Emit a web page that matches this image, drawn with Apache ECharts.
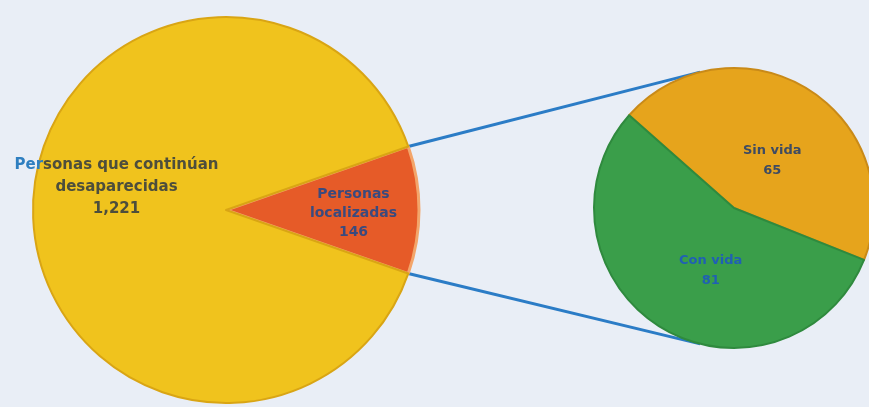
<!DOCTYPE html>
<html><head><meta charset="utf-8">
<script src="https://cdn.jsdelivr.net/npm/echarts@6/dist/echarts.min.js"></script>
<style>html,body{margin:0;padding:0;background:#e9eef6}#c{width:869px;height:407px}</style>
</head><body><div id="c"></div>
<script>
// data
const mainNames = ['Personas localizadas', 'Personas que continúan desaparecidas'];
const mainValues = [146, 1221];
const mainLabels = ['1,221'];
const subNames = ['Sin vida', 'Con vida'];
const subValues = [65, 81];

const c1 = [226, 210], r1 = 193;
const c2 = [734, 208], r2 = 140;
const total = mainValues[0] + mainValues[1];
const redAngle = mainValues[0] / total * 360;
const start1 = redAngle / 2;
const start2 = 138.5;

function pt(c, r, deg) {
  const a = deg * Math.PI / 180;
  return [c[0] + r * Math.cos(a), c[1] - r * Math.sin(a)];
}
const p1 = pt(c1, r1, start1), p2 = pt(c1, r1, -start1);
const q1 = pt(c2, r2, 104), q2 = pt(c2, r2, -104);

const font = 'DejaVu Sans';
const chart = echarts.init(document.getElementById('c'));
chart.setOption({
  backgroundColor: '#e9eef6',
  animation: false,
  graphic: [
    { type: 'line', z: 1, shape: { x1: p1[0], y1: p1[1], x2: q1[0], y2: q1[1] }, style: { stroke: '#2b7cc6', lineWidth: 3 } },
    { type: 'line', z: 1, shape: { x1: p2[0], y1: p2[1], x2: q2[0], y2: q2[1] }, style: { stroke: '#2b7cc6', lineWidth: 3 } }
  ],
  series: [
    {
      type: 'pie', z: 2, center: c1, radius: r1, startAngle: start1, clockwise: true,
      labelLine: { show: false },
      data: [
        { name: mainNames[0], value: mainValues[0],
          itemStyle: { color: '#e65b28', borderColor: '#f3a56a', borderWidth: 3 },
          label: { show: true, position: 'inside', offset: [28, 3], formatter: '{a|Personas}\n{a|localizadas}\n{a|{c}}',
            rich: { a: { color: '#3a4a7e', fontSize: 14, fontWeight: 'bold', fontFamily: font, lineHeight: 19, align: 'center' } } } },
        { name: mainNames[1], value: mainValues[1],
          itemStyle: { color: '#f0c31d', borderColor: '#d9a514', borderWidth: 2 },
          label: { show: true, position: 'inside', offset: [-10, -23], formatter: '{b|Per}{a|sonas que continúan}\n{a|desaparecidas}\n{a|' + mainLabels[0] + '}',
            rich: { a: { color: '#4d4e3c', fontSize: 15, fontWeight: 'bold', fontFamily: font, lineHeight: 22 },
                    b: { color: '#2f7fc0', fontSize: 15, fontWeight: 'bold', fontFamily: font, lineHeight: 22 } } } }
      ]
    },
    {
      type: 'pie', z: 2, center: c2, radius: r2, startAngle: start2, clockwise: true,
      labelLine: { show: false },
      data: [
        { name: subNames[0], value: subValues[0],
          itemStyle: { color: '#e6a41c', borderColor: '#c98a18', borderWidth: 2 },
          label: { show: true, position: 'inside', offset: [0, 15], formatter: '{b}\n{c}', color: '#3e4b62', fontSize: 13, fontWeight: 'bold', fontFamily: font, lineHeight: 20 } },
        { name: subNames[1], value: subValues[1],
          itemStyle: { color: '#3a9e4a', borderColor: '#2f8a3e', borderWidth: 2 },
          label: { show: true, position: 'inside', offset: [15, 0], formatter: '{b}\n{c}', color: '#2060b4', fontSize: 13, fontWeight: 'bold', fontFamily: font, lineHeight: 20 } }
      ]
    }
  ]
});
</script></body></html>
